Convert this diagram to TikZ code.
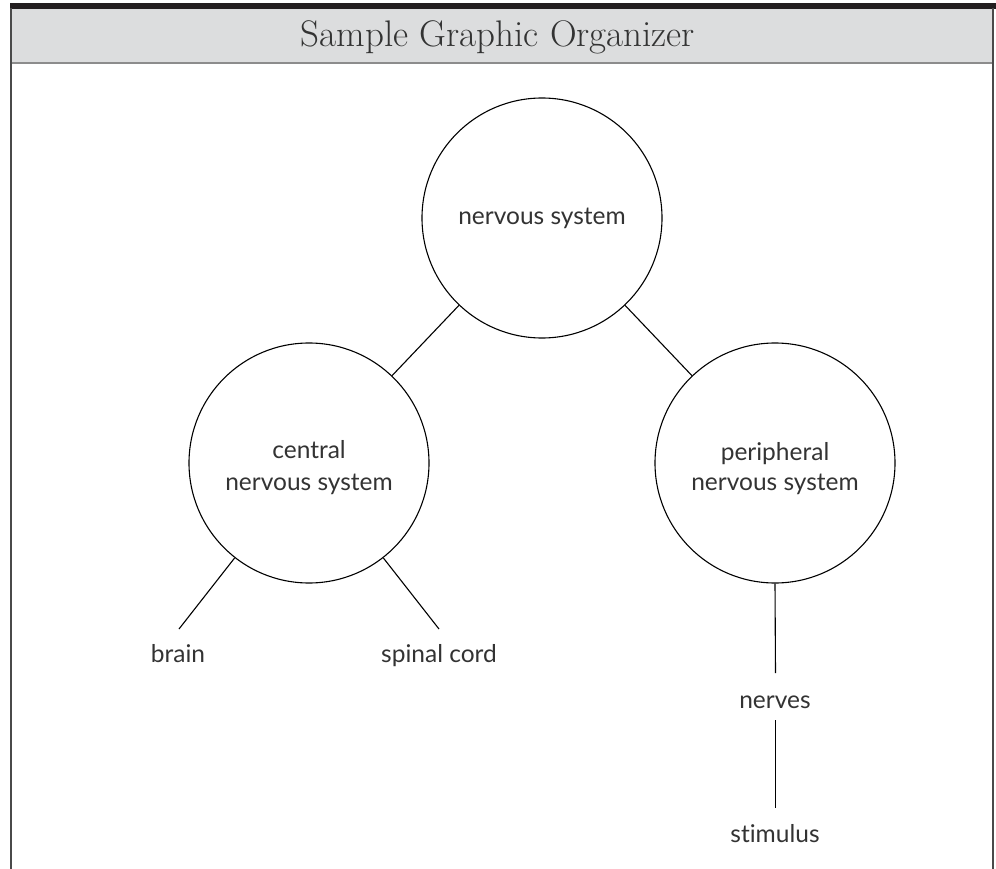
\documentclass[tikz,border=0pt]{standalone}
\usepackage{fontspec}
\newfontfamily\lblfont[Ligatures={NoCommon}]{Lato}
\definecolor{bandgray}{HTML}{DCDDDE}
\definecolor{bandedge}{HTML}{8C8C8C}
\definecolor{darkbar}{HTML}{231F20}
\definecolor{framegray}{HTML}{4A4A4A}
\definecolor{txtgray}{HTML}{333333}
\tikzset{
  bubble/.style={circle, draw=black, line width=1.1pt, minimum size=240pt, inner sep=0pt},
  lbl/.style={font=\lblfont\fontsize{24.5}{29}\selectfont, text=txtgray, anchor=base, inner sep=0pt},
  link/.style={draw=black, line width=1.1pt},
  titletext/.style={font=\fontsize{37}{42}\selectfont, text=txtgray, anchor=base, inner sep=0pt}
}
\begin{document}
\begin{tikzpicture}[x=1pt,y=-1pt]
\useasboundingbox (0,0) rectangle (996,869);
\fill[white] (0,0) rectangle (996,869);
% title band
\fill[bandgray] (11,8.7) rectangle (993,63);
\draw[bandedge, line width=1.2pt] (11,8.7) rectangle (993,63);
\fill[darkbar] (10,3.3) rectangle (996,8.7);
% side borders
\draw[framegray, line width=2pt] (11,8) -- (11,869);
\draw[framegray, line width=1.5pt] (993,8) -- (993,869);
\node[titletext] (title) at (498,47) {Sample Graphic Organizer};

% circles
\node[bubble] (ns) at (542,218) {};
\node[bubble] (cns) at (309,463) {};
\node[bubble] (pns) at (775,463) {};

\node[lbl] (nsl) at (542,225) {nervous system};
\node[lbl] (cnsa) at (309,458) {central};
\node[lbl] (cnsb) at (309,490) {nervous system};
\node[lbl] (pnsa) at (775,460) {peripheral};
\node[lbl] (pnsb) at (775,490) {nervous system};

\node[lbl] (brain) at (178,662) {brain};
\node[lbl] (spinal) at (439,662) {spinal cord};
\node[lbl] (nerves) at (775,708) {nerves};
\node[lbl] (stimulus) at (775,842) {stimulus};

\coordinate (bend) at (179,629);
\coordinate (send) at (439,629);
\coordinate (n1) at (775.5,673);
\coordinate (n2) at (775.5,720);
\coordinate (n3) at (775.5,808);

\draw[link] (ns) -- (cns);
\draw[link] (ns) -- (pns);
\draw[link] (cns) -- (bend);
\draw[link] (cns) -- (send);
\draw[link] (pns.south) -- (n1);
\draw[link] (n2) -- (n3);
\end{tikzpicture}
\end{document}
